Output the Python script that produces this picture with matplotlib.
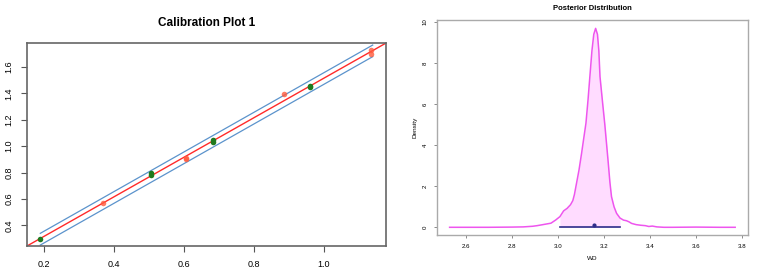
import numpy as np
import matplotlib.pyplot as plt

plt.rcParams['font.family'] = ['Liberation Sans', 'DejaVu Sans']

# calibration plot data
red_x = [0.369, 0.606, 0.606, 0.886, 1.136, 1.136]
red_y = [0.572, 0.912, 0.905, 1.394, 1.726, 1.700]
green_x = [0.190, 0.507, 0.507, 0.683, 0.683, 0.962, 0.962]
green_y = [0.298, 0.796, 0.785, 1.044, 1.030, 1.455, 1.445]
fit_intercept, fit_slope = 0.015, 1.5
band_x = [0.19, 1.14]
band_upper = [0.339, 1.767]
band_lower = [0.250, 1.679]

# posterior density
dens_x = [2.53, 2.60, 2.70, 2.80, 2.85, 2.89, 2.91, 2.93, 2.95, 2.97, 2.99,
          3.009, 3.025, 3.04, 3.055, 3.065, 3.072, 3.081, 3.092, 3.103, 3.112,
          3.122, 3.131, 3.139, 3.148, 3.156, 3.164, 3.172, 3.178, 3.183, 3.194,
          3.204, 3.212, 3.219, 3.226, 3.233, 3.244, 3.255, 3.27, 3.285, 3.298,
          3.31, 3.32, 3.34, 3.36, 3.38, 3.395, 3.41, 3.43, 3.46, 3.5, 3.6,
          3.7, 3.77]
dens_y = [0.0, 0.0, 0.0, 0.01, 0.02, 0.05, 0.08, 0.12, 0.16, 0.2, 0.35,
          0.52, 0.8, 0.92, 1.1, 1.3, 1.6, 2.14, 2.8, 3.6, 4.3,
          5.07, 6.2, 7.34, 8.6, 9.4, 9.69, 9.4, 8.6, 7.34, 6.1,
          5.0, 4.0, 3.12, 2.2, 1.49, 1.0, 0.68, 0.45, 0.35, 0.32,
          0.26, 0.19, 0.13, 0.1, 0.08, 0.04, 0.06, 0.02, 0.0, 0.0, 0.01,
          0.0, 0.0]
hdi_low, hdi_high = 3.009, 3.27
post_mean = 3.155

fig = plt.figure(figsize=(7.72, 2.77), dpi=100)

# left panel
ax1 = fig.add_axes([0.035, 0.112, 0.465, 0.733])
ax1.axline((0, fit_intercept), slope=fit_slope, color='#ff2a2a', lw=1.0, zorder=2)
ax1.plot(band_x, band_upper, color='#5b93cc', lw=0.9, zorder=2)
ax1.plot(band_x, band_lower, color='#5b93cc', lw=0.9, zorder=2)
ax1.plot(red_x, red_y, 'o', color='#ff5a3c', alpha=0.8, ms=4, mec='none', zorder=3)
ax1.plot(green_x, green_y, 'o', color='#1f7a1f', ms=4, mec='none', zorder=3)
ax1.set_xlim(0.152, 1.178)
ax1.set_ylim(0.243, 1.783)
ax1.set_xticks([0.2, 0.4, 0.6, 0.8, 1.0])
ax1.set_yticks([0.4, 0.6, 0.8, 1.0, 1.2, 1.4, 1.6])
ax1.set_xticklabels(['0.2', '0.4', '0.6', '0.8', '1.0'])
ax1.set_yticklabels(['0.4', '0.6', '0.8', '1.0', '1.2', '1.4', '1.6'],
                    rotation=90, va='center')
ax1.tick_params(labelsize=6.5, length=4, width=0.8, color='#555555', pad=6)
for s in ax1.spines.values():
    s.set_color('#666666')
    s.set_linewidth(1.2)
ax1.set_title('Calibration Plot 1', fontsize=8.5, fontweight='bold', pad=12)

# right panel
ax2 = fig.add_axes([0.566, 0.152, 0.403, 0.776])
dx = np.array(dens_x)
dy = np.array(dens_y)
inside = (dx >= hdi_low) & (dx <= hdi_high)
ax2.fill_between(dx, 0, dy, where=inside, color='#ffdcff', lw=0)
ax2.plot(dx, dy, color='#ee55ee', lw=1.1)
ax2.plot([hdi_low, hdi_high], [0, 0], color='#2e2e8a', lw=1.2)
ax2.plot([post_mean], [0.11], 'o', color='#2e2e8a', ms=2)
ax2.set_xlim(2.475, 3.826)
ax2.set_ylim(-0.37, 10.1)
ax2.set_xticks([2.6, 2.8, 3.0, 3.2, 3.4, 3.6, 3.8])
ax2.set_yticks([0, 2, 4, 6, 8, 10])
ax2.set_xticklabels(['2.6', '2.8', '3.0', '3.2', '3.4', '3.6', '3.8'])
ax2.set_yticklabels(['0', '2', '4', '6', '8', '10'], rotation=90, va='center')
ax2.tick_params(labelsize=4.4, length=2.5, width=0.6, color='#777777', pad=4)
for s in ax2.spines.values():
    s.set_color('#aaaaaa')
    s.set_linewidth(1.0)
ax2.set_xlabel('WD', fontsize=4.6, labelpad=5)
ax2.set_ylabel('Density', fontsize=4.6, labelpad=4)
ax2.set_title('Posterior Distribution', fontsize=5.5, fontweight='bold', pad=7.5)

fig.savefig('out.png', dpi=100)
